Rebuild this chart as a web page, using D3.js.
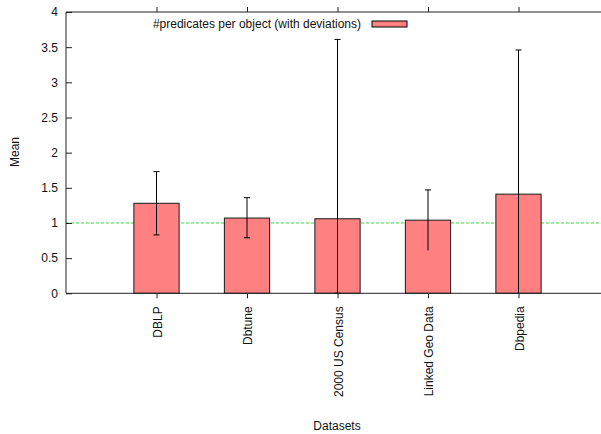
<!DOCTYPE html>
<html>
<head>
<meta charset="utf-8">
<script src="https://cdn.jsdelivr.net/npm/d3@7/dist/d3.min.js"></script>
<style>
  html, body { margin: 0; padding: 0; background: #fff; }
  svg { display: block; font-family: "Liberation Sans", Arial, sans-serif; }
</style>
</head>
<body>
<svg id="chart" width="601" height="434"></svg>
<script>
const categories = ["DBLP", "Dbtune", "2000 US Census", "Linked Geo Data", "Dbpedia"];
const means = [1.28, 1.07, 1.06, 1.04, 1.41];
const errLow = [0.83, 0.79, 0, 0.61, 0];
const errHigh = [1.73, 1.36, 3.61, 1.47, 3.46];
const yTicks = [0, 0.5, 1, 1.5, 2, 2.5, 3, 3.5, 4];
const yTickLabels = ["0", "0.5", "1", "1.5", "2", "2.5", "3", "3.5", "4"];
const refValue = 1;
const legendLabel = "#predicates per object (with deviations)";
const xTitle = "Datasets";
const yTitle = "Mean";

const svg = d3.select("#chart");
const plotLeft = 66, plotTop = 12, plotBottom = 293.3, rightAt6 = 609;
const fs = 12;

const x = d3.scaleLinear().domain([0, 6]).range([plotLeft, rightAt6]);
const y = d3.scaleLinear().domain([0, 4]).range([plotBottom, plotTop]);
const barW = x(0.5) - x(0);

// reference line
svg.append("line")
  .attr("x1", x(0)).attr("x2", 601)
  .attr("y1", y(refValue)).attr("y2", y(refValue))
  .attr("stroke", "#2ee02e").attr("stroke-width", 1)
  .attr("stroke-dasharray", "3,2");

// bars
svg.selectAll("rect.bar").data(means).enter().append("rect")
  .attr("class", "bar")
  .attr("x", (d, i) => x(i + 1) - barW / 2)
  .attr("width", barW)
  .attr("y", d => y(d))
  .attr("height", d => y(0) - y(d))
  .attr("fill", "#ff8080")
  .attr("stroke", "#1a1a1a").attr("stroke-width", 1);

// error bars
const eb = svg.selectAll("g.err").data(means).enter().append("g").attr("class", "err");
eb.append("line")
  .attr("x1", (d, i) => x(i + 1)).attr("x2", (d, i) => x(i + 1))
  .attr("y1", (d, i) => y(errLow[i])).attr("y2", (d, i) => y(errHigh[i]))
  .attr("stroke", "#000").attr("stroke-width", 1);
eb.append("line")
  .attr("x1", (d, i) => x(i + 1) - 3).attr("x2", (d, i) => x(i + 1) + 3)
  .attr("y1", (d, i) => y(errHigh[i])).attr("y2", (d, i) => y(errHigh[i]))
  .attr("stroke", "#000").attr("stroke-width", 1);
eb.filter((d, i) => errLow[i] > 0).append("line")
  .attr("x1", (d, i) => x(i + 1) - 3).attr("x2", (d, i) => x(i + 1) + 3)
  .attr("y1", (d, i) => y(errLow[i])).attr("y2", (d, i) => y(errLow[i]))
  .attr("stroke", "#000").attr("stroke-width", 1);

// borders
const border = svg.append("g").attr("stroke", "#222").attr("stroke-width", 1).attr("fill", "none");
border.append("path").attr("d", `M${601},${plotTop}H${plotLeft}V${plotBottom}H${601}`);

// y axis
const yAxis = d3.axisLeft(y).tickValues(yTicks)
  .tickFormat((d, i) => yTickLabels[i]).tickSize(-6).tickPadding(8);
const gy = svg.append("g").attr("transform", `translate(${plotLeft},0)`).call(yAxis);
gy.select(".domain").remove();
gy.selectAll(".tick line").attr("stroke", "#222");
gy.selectAll("text").attr("font-size", fs).attr("fill", "#111")
  .attr("font-family", "Liberation Sans, Arial, sans-serif");

// x axis bottom
const xb = d3.axisBottom(x).tickValues([1, 2, 3, 4, 5])
  .tickFormat((d, i) => categories[i]).tickSize(5).tickPadding(0);
const gx = svg.append("g").attr("transform", `translate(0,${plotBottom})`).call(xb);
gx.select(".domain").remove();
gx.selectAll(".tick line").attr("stroke", "#222");
gx.selectAll("text")
  .attr("font-size", fs).attr("fill", "#111")
  .attr("font-family", "Liberation Sans, Arial, sans-serif")
  .attr("text-anchor", "end")
  .attr("dy", null)
  .attr("transform", "translate(4.5,13) rotate(-90)")
  .attr("y", 0).attr("x", 0);

// x axis top (mirror ticks)
const xt = d3.axisTop(x).tickValues([1, 2, 3, 4, 5]).tickFormat("").tickSize(5);
const gxt = svg.append("g").attr("transform", `translate(0,${plotTop})`).call(xt);
gxt.select(".domain").remove();
gxt.selectAll(".tick line").attr("stroke", "#222");

// legend
svg.append("text").attr("x", 361).attr("y", 28)
  .attr("text-anchor", "end").attr("font-size", fs).attr("fill", "#111")
  .text(legendLabel);
svg.append("rect").attr("x", 372).attr("y", 21).attr("width", 35).attr("height", 6)
  .attr("fill", "#ff8080").attr("stroke", "#000").attr("stroke-width", 1);

// titles
svg.append("text")
  .attr("transform", `translate(19,152) rotate(-90)`)
  .attr("text-anchor", "middle").attr("font-size", fs).attr("fill", "#111")
  .text(yTitle);
svg.append("text").attr("x", 337).attr("y", 430)
  .attr("text-anchor", "middle").attr("font-size", fs).attr("fill", "#111")
  .text(xTitle);
</script>
</body>
</html>
